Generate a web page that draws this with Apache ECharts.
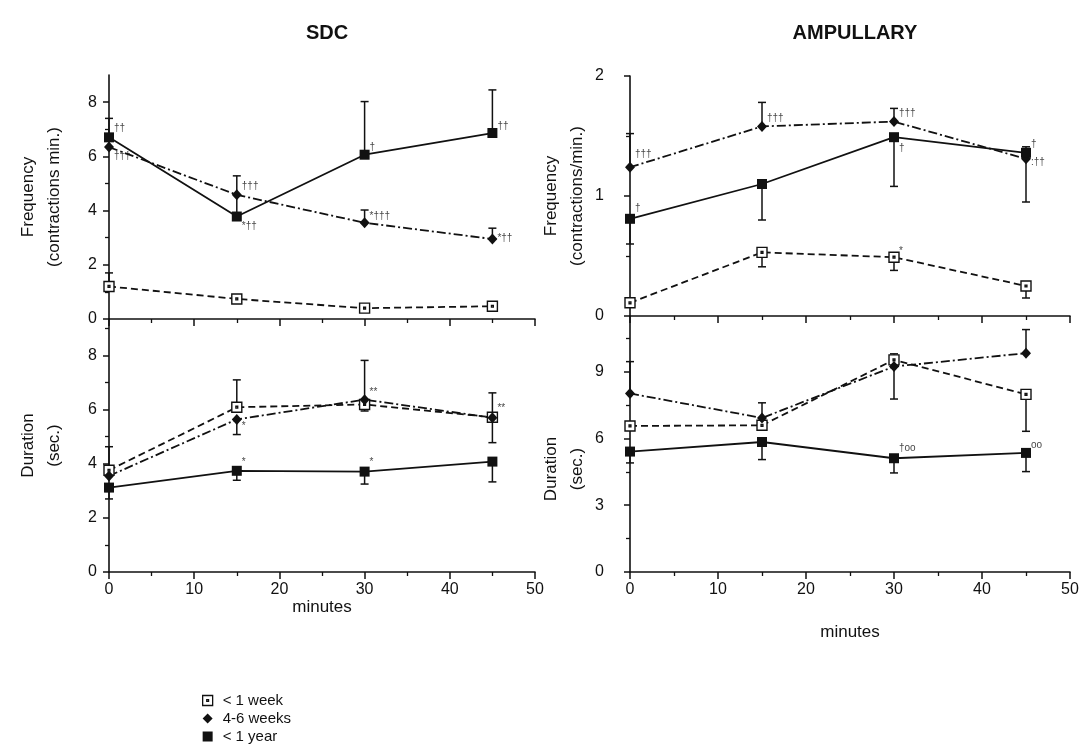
<!DOCTYPE html>
<html>
<head>
<meta charset="utf-8">
<script src="https://cdn.jsdelivr.net/npm/echarts@6/dist/echarts.min.js"></script>
<style>
html, body { margin: 0; padding: 0; background: #fff; }
#chart { width: 1081px; height: 754px; }
</style>
</head>
<body>
<div id="chart"></div>
<script>
// time points (minutes)
var minutes = [0, 15, 30, 45];
var groups = ['< 1 week', '4-6 weeks', '< 1 year'];

// SDC frequency (contractions/min)
var sdcFreqWeek = [1.2, 0.74, 0.4, 0.47];
var sdcFreqWeeks46 = [6.34, 4.58, 3.55, 2.95];
var sdcFreqYear = [6.7, 3.78, 6.06, 6.86];
// SDC duration (sec)
var sdcDurWeek = [3.76, 6.09, 6.19, 5.72];
var sdcDurWeeks46 = [3.55, 5.64, 6.37, 5.7];
var sdcDurYear = [3.12, 3.74, 3.71, 4.08];
// ampullary frequency
var ampFreqWeek = [0.11, 0.53, 0.49, 0.25];
var ampFreqWeeks46 = [1.24, 1.58, 1.62, 1.31];
var ampFreqYear = [0.81, 1.1, 1.49, 1.36];
// ampullary duration
var ampDurWeek = [6.56, 6.59, 9.53, 7.98];
var ampDurWeeks46 = [8.02, 6.92, 9.23, 9.83];
var ampDurYear = [5.41, 5.84, 5.11, 5.35];

// error bars: [minute, low, high]
var sdcFreqErr = [[0, 6.7, 7.4], [0, 1.2, 1.7], [15, 3.78, 5.28], [30, 6.06, 8.02],
  [45, 6.86, 8.45], [30, 3.55, 4.02], [45, 2.95, 3.35]];
var sdcDurErr = [[0, 3.76, 4.63], [0, 2.7, 3.12], [15, 6.09, 7.1], [15, 5.08, 5.64],
  [30, 6.37, 7.82], [30, 5.95, 6.19], [45, 5.72, 6.62], [45, 4.78, 5.7],
  [15, 3.39, 3.74], [30, 3.25, 3.71], [45, 3.33, 4.08]];
var ampFreqErr = [[0, 1.24, 1.52], [0, 0.6, 0.81], [15, 1.58, 1.78], [30, 1.62, 1.73],
  [15, 0.8, 1.1], [30, 1.08, 1.49], [45, 0.95, 1.31], [45, 1.36, 1.41],
  [15, 0.41, 0.53], [30, 0.38, 0.49], [45, 0.15, 0.25]];
var ampDurErr = [[0, 8.02, 9.45], [0, 4.9, 5.41], [15, 6.92, 7.6], [15, 5.05, 5.84],
  [30, 9.53, 9.8], [30, 7.77, 9.23], [30, 4.45, 5.11], [45, 9.83, 10.89],
  [45, 6.32, 7.98], [45, 4.51, 5.35]];

// significance marks: [minute, value, text]
var sdcFreqNotes = [[0, 7.05, '††'], [0, 6.0, '†††'], [15, 4.9, '†††'], [15, 3.42, '*††'],
  [30, 6.34, '†'], [30, 3.78, '*†††'], [45, 7.1, '††'], [45, 2.98, '*††']];
var sdcDurNotes = [[15, 4.04, '*'], [30, 4.04, '*'], [15, 5.39, '*'], [30, 6.64, '**'], [45, 6.07, '**']];
var ampFreqNotes = [[0, 1.35, '†††'], [0, 0.9, '†'], [15, 1.65, '†††'], [30, 1.69, '†††'],
  [30, 1.4, '†'], [45, 1.43, '†'], [45, 1.28, ':††'], [30, 0.54, '*']];
var ampDurNotes = [[30, 5.57, '†oo'], [45, 5.69, 'oo']];

var ink = '#111';
var font = 'Liberation Sans';
var openSquare = 'path://M0,0L10,0L10,10L0,10Z M4.1,4.1L5.9,4.1L5.9,5.9L4.1,5.9Z';
var groupStyle = {
  '< 1 week': { symbol: openSquare, size: 10, line: [7, 4], fill: '#fff' },
  '4-6 weeks': { symbol: 'diamond', size: [10, 11], line: [9, 3, 2, 3], fill: ink },
  '< 1 year': { symbol: 'rect', size: 10, line: 'solid', fill: ink }
};

function lineSeries(idx, name, values) {
  var st = groupStyle[name];
  return {
    type: 'line', name: name, xAxisIndex: idx, yAxisIndex: idx,
    data: minutes.map(function (m, i) { return [m, values[i]]; }),
    symbol: st.symbol, symbolSize: st.size, showAllSymbol: true,
    lineStyle: { color: ink, width: 1.8, type: st.line },
    itemStyle: { color: st.fill, borderColor: ink, borderWidth: st.fill === '#fff' ? 1.4 : 0, opacity: 1 },
    z: 3, silent: true
  };
}

function errorSeries(idx, data) {
  return {
    type: 'custom', xAxisIndex: idx, yAxisIndex: idx, data: data, z: 2, silent: true,
    encode: { x: 0, y: [1, 2] },
    renderItem: function (params, api) {
      var hi = api.coord([api.value(0), api.value(2)]);
      var lo = api.coord([api.value(0), api.value(1)]);
      var w = 4;
      var style = { stroke: ink, lineWidth: 1.5, fill: null };
      return {
        type: 'group', children: [
          { type: 'line', shape: { x1: hi[0], y1: hi[1], x2: lo[0], y2: lo[1] }, style: style },
          { type: 'line', shape: { x1: hi[0] - w, y1: hi[1], x2: hi[0] + w, y2: hi[1] }, style: style },
          { type: 'line', shape: { x1: lo[0] - w, y1: lo[1], x2: lo[0] + w, y2: lo[1] }, style: style }
        ]
      };
    }
  };
}

function noteSeries(idx, data) {
  return {
    type: 'scatter', xAxisIndex: idx, yAxisIndex: idx, data: data, symbolSize: 0, z: 5, silent: true,
    encode: { x: 0, y: 1 },
    label: {
      show: true, position: 'right', distance: 5, color: ink, fontSize: 10,
      fontFamily: font,
      formatter: function (p) { return p.data[2]; }
    }
  };
}

function xAxis(grid, showLabels, name, nameGap) {
  return {
    type: 'value', gridIndex: grid, min: 0, max: 50, interval: 10,
    axisLine: { show: true, onZero: false, lineStyle: { color: ink, width: 1.6 } },
    axisTick: { show: true, length: 7, lineStyle: { color: ink, width: 1.5 } },
    minorTick: { show: true, splitNumber: 2, length: 4, lineStyle: { color: ink, width: 1.3 } },
    axisLabel: { show: showLabels, margin: 10, color: ink, fontSize: 16, fontFamily: font },
    splitLine: { show: false },
    name: name, nameLocation: 'middle', nameGap: nameGap,
    nameTextStyle: { color: ink, fontSize: 17, fontFamily: font }
  };
}
function yAxis(grid, max, interval, ticks, name, gap, margin, pad) {
  return {
    type: 'value', gridIndex: grid, min: 0, max: max, interval: interval,
    axisLine: { show: true, onZero: false, lineStyle: { color: ink, width: 1.6 } },
    axisTick: { show: true, length: 6, customValues: ticks, lineStyle: { color: ink, width: 1.5 } },
    minorTick: { show: true, splitNumber: 2, length: 4, lineStyle: { color: ink, width: 1.3 } },
    axisLabel: { margin: margin, customValues: ticks, color: ink, fontSize: 16, fontFamily: font },
    splitLine: { show: false },
    name: name, nameLocation: 'middle', nameRotate: 90, nameGap: gap,
    nameTextStyle: { color: ink, fontSize: 17, lineHeight: 26, fontFamily: font, padding: pad || 0 }
  };
}

var panels = [
  [sdcFreqWeek, sdcFreqWeeks46, sdcFreqYear, sdcFreqErr, sdcFreqNotes],
  [sdcDurWeek, sdcDurWeeks46, sdcDurYear, sdcDurErr, sdcDurNotes],
  [ampFreqWeek, ampFreqWeeks46, ampFreqYear, ampFreqErr, ampFreqNotes],
  [ampDurWeek, ampDurWeeks46, ampDurYear, ampDurErr, ampDurNotes]
];
var series = [];
panels.forEach(function (p, idx) {
  series.push(errorSeries(idx, p[3]));
  groups.forEach(function (g, k) { series.push(lineSeries(idx, g, p[k])); });
  series.push(noteSeries(idx, p[4]));
});

var chart = echarts.init(document.getElementById('chart'), null, { renderer: 'canvas' });
chart.setOption({
  animation: false,
  backgroundColor: '#fff',
  textStyle: { fontFamily: font },
  title: [
    { text: 'SDC', left: 322, top: 18, textAlign: 'center',
      textStyle: { fontSize: 20, fontWeight: 'bold', color: ink, fontFamily: font } },
    { text: 'AMPULLARY', left: 850, top: 18, textAlign: 'center',
      textStyle: { fontSize: 20, fontWeight: 'bold', color: ink, fontFamily: font } }
  ],
  legend: {
    orient: 'vertical', left: 202, top: 693, itemGap: 3, itemWidth: 10, itemHeight: 10,
    padding: 0, height: 60,
    textStyle: { color: ink, fontSize: 15, fontFamily: font, lineHeight: 15, padding: [0, 0, 0, 5] },
    data: [
      { name: '< 1 week', icon: openSquare, itemStyle: { color: '#fff', borderColor: ink, borderWidth: 1.3 } },
      { name: '4-6 weeks', icon: 'diamond', itemStyle: { color: ink, borderWidth: 0 } },
      { name: '< 1 year', icon: 'rect', itemStyle: { color: ink, borderWidth: 0 } }
    ],
    selectedMode: false
  },
  grid: [
    { left: 109, top: 75, width: 426, height: 244, containLabel: false, outerBoundsMode: 'none' },
    { left: 109, top: 319, width: 426, height: 253, containLabel: false, outerBoundsMode: 'none' },
    { left: 630, top: 76, width: 440, height: 240, containLabel: false, outerBoundsMode: 'none' },
    { left: 630, top: 316, width: 440, height: 256, containLabel: false, outerBoundsMode: 'none' }
  ],
  xAxis: [
    xAxis(0, false, '', 0),
    xAxis(1, true, 'minutes', 26),
    xAxis(2, false, '', 0),
    xAxis(3, true, 'minutes', 52)
  ],
  yAxis: [
    yAxis(0, 9, 2, [0, 2, 4, 6, 8], 'Frequency\n(contractions min.)', 42, 12),
    yAxis(1, 9.35, 2, [0, 2, 4, 6, 8], 'Duration\n(sec.)', 42, 12),
    yAxis(2, 2, 1, [0, 1, 2], 'Frequency\n(contractions/min.)', 40, 26),
    yAxis(3, 11.5, 3, [0, 3, 6, 9], 'Duration\n(sec.)', 40, 26, [0, 50, 0, 0])
  ],
  series: series
});
</script>
</body>
</html>
